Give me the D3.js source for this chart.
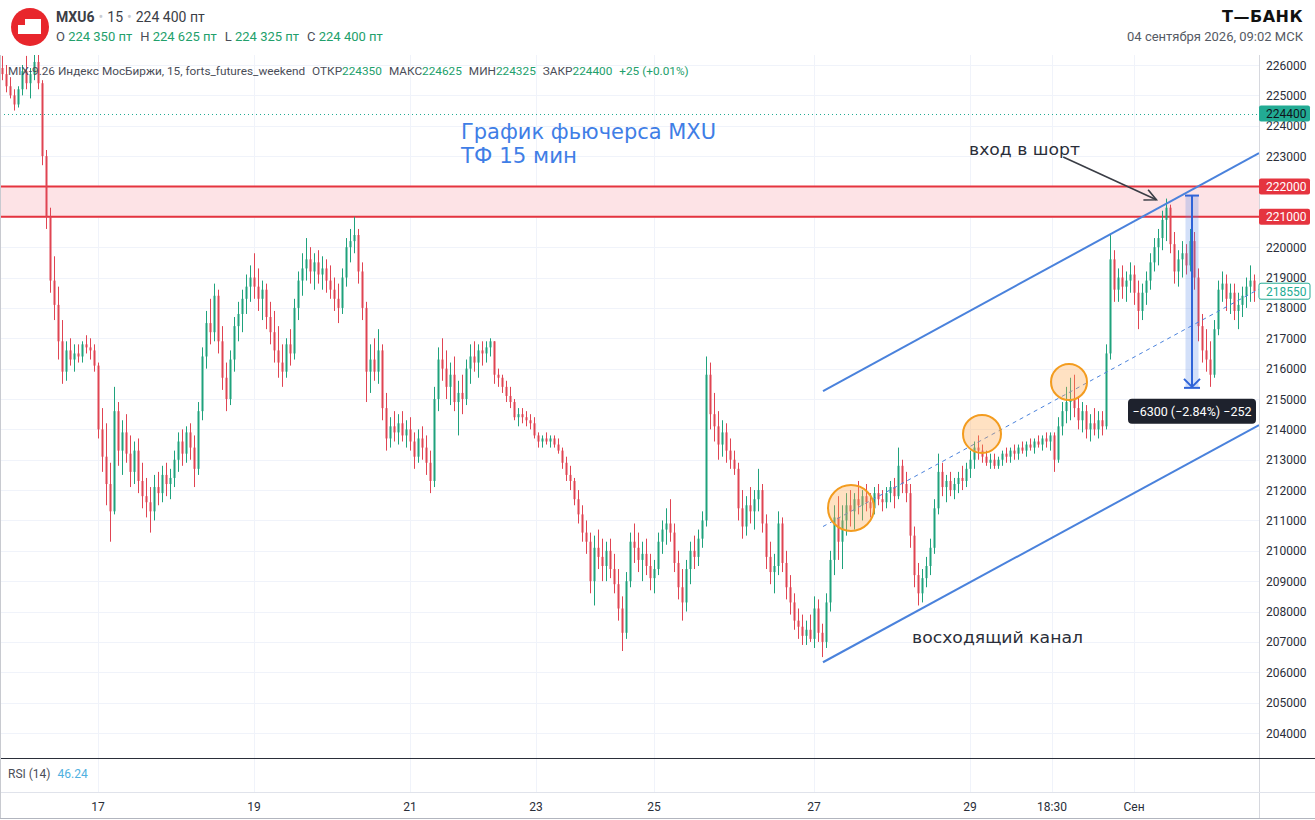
<!DOCTYPE html>
<html><head><meta charset="utf-8">
<script src="https://cdn.jsdelivr.net/npm/d3@7"></script>
<style>
html,body{margin:0;padding:0;background:#fff;}
svg{display:block;font-family:Roboto,"Noto Sans",sans-serif;}
</style></head>
<body>
<svg id="chart" width="1315" height="820"></svg>
<script>
// ---------- DATA ----------
// 15-min candles [open, high, low, close]
const candles = [
[225900,226300,225500,225700],[225700,226000,225100,225300],[225300,225600,224900,225000],[225000,225200,224500,224700],
[224700,225300,224600,225200],[225200,226000,225000,225800],[225800,226300,225200,225400],[225400,225900,224900,225700],
[225700,226400,225500,226100],[226100,226400,225200,225400],[225400,225500,222700,223000],[223000,223200,220600,221000],
[221000,221300,218500,218900],[218900,219700,217600,218100],[218100,218700,216300,216900],[216900,217600,215500,215900],
[215900,216900,215600,216600],[216600,217000,216100,216300],[216300,216800,215900,216500],[216500,216800,216200,216400],
[216400,216900,216200,216800],[216800,217100,216500,216700],[216700,217000,216300,216600],[216600,216800,215900,216100],
[216100,216200,213700,214000],[214000,214700,212600,213100],[213100,214200,211500,212200],[212200,212900,210300,211300],
[211300,215400,211200,214600],[214600,214900,212800,213300],[213300,214300,212500,213900],[213900,214500,212900,213200],
[213200,213800,212100,212600],[212600,213600,212200,213300],[213300,213700,211900,212300],[212300,212900,211400,211800],
[211800,212400,211100,211600],[211600,212100,210600,211300],[211300,212500,211000,212100],[212100,212600,211500,211900],
[211900,212800,211600,212500],[212500,212900,211800,212200],[212200,212700,211700,212400],[212400,213300,212100,213000],
[213000,213900,212600,213600],[213600,214000,212800,213200],[213200,214100,212900,213900],[213900,214200,213000,213400],
[213400,213800,212100,212700],[212700,214900,212500,214600],[214600,216700,214300,216400],[216400,217900,216000,217500],
[217500,218300,216800,217200],[217200,218800,216900,218400],[218400,218600,216500,216900],[216900,217400,215300,215700],
[215700,216200,214600,215000],[215000,216600,214800,216300],[216300,217700,215900,217400],[217400,218200,216900,217800],
[217800,218600,217200,218300],[218300,219100,217800,218700],[218700,219400,218200,219000],[219000,219800,218300,218700],
[218700,219300,217900,218300],[218300,218900,217600,218600],[218600,218800,217300,217700],[217700,218200,216800,217200],
[217200,217900,216200,216600],[216600,217400,215700,216200],[216200,216800,215400,215900],[215900,217000,215700,216800],
[216800,217300,216100,216500],[216500,218300,216300,218000],[218000,219200,217600,218900],[218900,219800,218400,219300],
[219300,220300,218900,219600],[219600,220000,218800,219200],[219200,219800,218600,219500],[219500,219900,218800,219100],
[219100,219700,218600,219300],[219300,219600,218500,218900],[218900,219400,218300,218600],[218600,219000,217900,218300],
[218300,218800,217500,218000],[218000,219300,217800,219000],[219000,220300,218700,220000],[220000,220600,219500,220200],
[220200,221000,219800,220400],[220400,220600,218800,219200],[219200,219500,217600,218000],[218000,218200,214900,215900],
[215900,216800,215200,216300],[216300,217000,215600,215900],[215900,217300,215500,216600],[216600,216800,214300,214700],
[214700,215200,213300,213700],[213700,214400,213400,214100],[214100,214600,213600,213900],[213900,214500,213500,214200],
[214200,214600,213600,213800],[213800,214300,213400,214000],[214000,214400,213300,213600],[213600,213900,212700,213100],
[213100,214000,212900,213700],[213700,214100,213000,213400],[213400,213800,212500,212900],[212900,213300,211900,212300],
[212300,215400,212100,215000],[215000,216700,214600,216300],[216300,217000,215600,216000],[216000,216600,215000,215400],
[215400,216200,214800,215800],[215800,216400,214600,214900],[214900,215600,213800,215200],[215200,215800,214500,215000],
[215000,216300,214800,216000],[216000,216800,215500,216400],[216400,216900,215900,216200],[216200,216800,215700,216600],
[216600,216900,216100,216500],[216500,216900,216200,216700],[216700,217000,216400,216900],[216900,216900,215500,215800],
[215800,216000,215400,215700],[215700,215800,215200,215400],[215400,215600,214900,215100],[215100,215400,214700,214900],
[214900,215000,214300,214400],[214400,214700,214100,214500],[214500,214700,214200,214400],[214400,214600,214100,214300],
[214300,214500,214000,214200],[214200,214400,213700,213800],[213800,213900,213400,213600],[213600,213800,213400,213700],
[213700,213900,213500,213600],[213600,213800,213400,213700],[213700,213800,213400,213500],[213500,213700,213200,213300],
[213300,213400,212700,212900],[212900,213100,212300,212500],[212500,212800,212000,212300],[212300,212400,211500,211700],
[211700,212000,210900,211200],[211200,211500,210300,210600],[210600,211000,209900,210300],[210300,210600,208600,209000],
[209000,210500,208200,210100],[210100,210700,209400,209800],[209800,210400,209000,209500],[209500,210300,209000,210000],
[210000,210400,209100,209400],[209400,209900,208600,208900],[208900,209400,207700,208100],[208100,208500,206700,207300],
[207300,209300,207100,209000],[209000,210600,208800,210300],[210300,210900,209600,210100],[210100,210600,209300,209700],
[209700,210300,209000,209900],[209900,210400,209200,209500],[209500,209900,208700,209100],[209100,209700,208600,209400],
[209400,210600,209200,210300],[210300,211000,209900,210700],[210700,211400,210200,210900],[210900,211700,210300,210600],
[210600,210900,209300,209600],[209600,210000,208400,208800],[208800,209400,207700,208300],[208300,209700,208000,209400],
[209400,210300,208900,210000],[210000,210500,209400,209800],[209800,210700,209500,210400],[210400,211300,210100,211000],
[211000,216400,210800,215800],[215800,216200,214000,214500],[214500,215200,213600,214100],[214100,214600,213000,213500],
[213500,214300,213100,213900],[213900,214200,212900,213300],[213300,213700,212700,213000],[213000,213300,212500,212700],
[212700,212900,211000,211400],[211400,212000,210400,210800],[210800,211800,210500,211500],[211500,212100,210900,211300],
[211300,212000,210700,211700],[211700,212700,211300,212000],[212000,212200,210600,210900],[210900,211200,209400,209800],
[209800,210300,208900,209300],[209300,209900,208600,209500],[209500,211300,209200,210900],[210900,211100,209300,209600],
[209600,210000,208400,208800],[208800,209200,207900,208300],[208300,208600,207400,207700],[207700,208100,207100,207500],
[207500,207900,206900,207200],[207200,207700,206900,207400],[207400,207900,207000,207100],[207100,208500,206800,208100],
[208100,208400,207000,207300],[207300,207600,206500,207000],[207000,208600,206800,208300],[208300,210000,208000,209700],
[209700,211500,209200,211100],[211100,211800,209700,210300],[210300,211500,209400,211000],[211000,211900,210500,211500],
[211500,212000,210800,211300],[211300,211900,210700,211700],[211700,212300,211200,211500],[211500,212000,211000,211800],
[211800,212200,211300,211600],[211600,211900,211100,211400],[211400,212100,211200,211900],[211900,212200,211500,211700],
[211700,212000,211300,211600],[211600,212100,211400,211900],[211900,212300,211600,212100],[212100,212400,211400,211800],
[211800,213400,211700,212800],[212800,213000,211900,212200],[212200,212600,211600,211900],[211900,212200,210100,210500],
[210500,210800,208800,209200],[209200,209600,208200,208600],[208600,209400,208300,209100],[209100,209800,208800,209500],
[209500,210400,209200,210100],[210100,211700,209900,211400],[211400,213200,211200,212600],[212600,212900,211800,212100],
[212100,212500,211600,212300],[212300,212600,211800,212000],[212000,212400,211700,212200],[212200,212600,211900,212400],
[212400,212800,212000,212300],[212300,212900,212100,212700],[212700,213300,212400,213000],[213000,213600,212700,213400],
[213400,213800,213000,213300],[213300,213500,212900,213100],[213100,213300,212800,212900],[212900,213200,212700,213000],
[213000,213200,212700,212800],[212800,213100,212700,213000],[213000,213300,212800,213200],[213200,213400,212900,213100],
[213100,213400,212900,213300],[213300,213500,213000,213200],[213200,213500,213000,213400],[213400,213600,213200,213300],
[213300,213600,213100,213500],[213500,213700,213300,213400],[213400,213700,213200,213600],[213600,213800,213400,213500],
[213500,213800,213300,213700],[213700,213900,213400,213600],[213600,213900,213300,213800],[213800,213900,212600,213000],
[213000,214400,212900,214100],[214100,214900,213800,214600],[214600,215400,214200,214900],[214900,215700,214300,215000],
[215000,215800,214400,214700],[214700,215100,214000,214300],[214300,214900,213900,214600],[214600,214800,213700,214000],
[214000,214500,213600,214200],[214200,214700,213800,214000],[214000,214600,213700,214300],[214300,214600,213800,214100],
[214100,216800,214000,216500],[216500,220400,216300,219600],[219600,219900,218200,218600],[218600,219300,218200,219000],
[219000,219400,218300,218700],[218700,219200,218200,218900],[218900,219500,218500,219100],[219100,219400,218100,218500],
[218500,218900,217300,217900],[217900,218800,217600,218500],[218500,219200,218100,218900],[218900,219800,218600,219500],
[219500,220300,219200,220000],[220000,220600,219400,220300],[220300,221200,219900,220900],[220900,221600,220200,221300],
[221300,221400,219800,220100],[220100,220500,218800,219200],[219200,219900,218700,219600],[219600,220200,219000,219800],
[219800,220100,219100,219400],[219400,220600,219200,220200],[220200,220500,218600,219000],[219000,219300,216900,217400],
[217400,217800,216200,216600],[216600,217300,215900,216300],[216300,216900,215400,215800],[215800,217600,215700,217300],
[217300,218900,217100,218600],[218600,219200,218200,218800],[218800,219100,217900,218300],[218300,218800,217800,218500],
[218500,218800,217600,217900],[217900,218500,217300,218100],[218100,218700,217700,218400],[218400,219000,218000,218700],
[218700,219400,218200,218900],[218900,219100,218200,218550]
];
const priceTicks = [204000,205000,206000,207000,208000,209000,210000,211000,212000,213000,214000,215000,
                    216000,217000,218000,219000,220000,221000,222000,223000,224000,225000,226000];
const timeTickIndex = [24, 63, 102, 133.5, 163, 203, 242, 262.5, 283];
const timeTickLabels = ["17","19","21","23","25","27","29","18:30","Сен"];
const lastPrice = 224400;          // last trade (dotted line)
const closeLevel = 218550;         // close label
const zoneLevels = [222000, 221000];
// rising channel: [candle index, price]
const channelUpper = [[205.25, 215260],[314.25, 223100]];
const channelLower = [[205.25, 206330],[314.25, 214140]];
const channelMid   = [[205.25, 210800],[314.25, 218620]];
// touch points of the mid line: [candle index, price]
const touches = [[212.25, 211410],[245, 213850],[266.75, 215560]];
// short measure: index, from, to
const measure = {idx: 297.5, from: 221700, to: 215400, label: "−6300 (−2.84%) −252"};
const entryArrow = [[265.3, 222970],[288.6, 221560]];
const ohlcHeader = [["O","224 350 пт"],["H","224 625 пт"],["L","224 325 пт"],["C","224 400 пт"]];
const legendVals = [["ОТКР","224350"],["МАКС","224625"],["МИН","224325"],["ЗАКР","224400"]];

// ---------- LAYOUT ----------
const W = 1315, H = 820;
const plotL = 0, plotR = 1259, plotT = 55, plotB = 757;
const svg = d3.select("#chart");

const x = d3.scaleLinear().domain([0, candles.length - 1]).range([2, 1254]);
const y = d3.scaleLinear().domain([204000, 226000]).range([733, 65]);

const UP = "#1fa27c", DOWN = "#e04452";
const BLUE = "#4a82dc";

svg.append("rect").attr("width", W).attr("height", H).attr("fill", "#fff");

svg.append("clipPath").attr("id","plotclip").append("rect")
  .attr("x", plotL).attr("y", plotT).attr("width", plotR - plotL).attr("height", plotB - plotT);

const grid = svg.append("g");
priceTicks.forEach(p => {
  grid.append("line").attr("x1", plotL).attr("x2", plotR)
    .attr("y1", Math.round(y(p)) + 0.5).attr("y2", Math.round(y(p)) + 0.5)
    .attr("stroke", "#f0f3fa").attr("stroke-width", 1);
});
timeTickIndex.forEach(t => {
  grid.append("line").attr("x1", Math.round(x(t)) + 0.5).attr("x2", Math.round(x(t)) + 0.5)
    .attr("y1", plotT).attr("y2", 792)
    .attr("stroke", "#f0f3fa").attr("stroke-width", 1);
});

const plot = svg.append("g").attr("clip-path", "url(#plotclip)");

// resistance zone
plot.append("rect").attr("x", plotL).attr("width", plotR - plotL)
  .attr("y", y(zoneLevels[0])).attr("height", y(zoneLevels[1]) - y(zoneLevels[0]))
  .attr("fill", "#fde3e6");
zoneLevels.forEach(p => {
  plot.append("line").attr("x1", plotL).attr("x2", plotR).attr("y1", y(p)).attr("y2", y(p))
    .attr("stroke", "#e5343f").attr("stroke-width", 2);
});

// last price dotted line
plot.append("line").attr("x1", plotL).attr("x2", plotR)
  .attr("y1", Math.round(y(lastPrice)) + 0.5).attr("y2", Math.round(y(lastPrice)) + 0.5)
  .attr("stroke", "#22ab94").attr("stroke-width", 1).attr("stroke-dasharray", "1,3");

// candles
const cg = plot.append("g");
candles.forEach((c, i) => {
  const [o, h, l, cl] = c;
  const col = cl >= o ? UP : DOWN;
  const cx = Math.round(x(i));
  cg.append("line").attr("x1", cx + 0.5).attr("x2", cx + 0.5)
    .attr("y1", y(h)).attr("y2", y(l)).attr("stroke", col).attr("stroke-width", 1);
  const top = y(Math.max(o, cl)), bot = y(Math.min(o, cl));
  cg.append("rect").attr("x", cx - 0.5).attr("width", 2)
    .attr("y", top).attr("height", Math.max(1, bot - top)).attr("fill", col);
});

// channel
const line = d3.line().x(d => x(d[0])).y(d => y(d[1]));
plot.append("path").attr("d", line(channelUpper)).attr("stroke", BLUE).attr("stroke-width", 2).attr("fill", "none");
plot.append("path").attr("d", line(channelLower)).attr("stroke", BLUE).attr("stroke-width", 2).attr("fill", "none");
plot.append("path").attr("d", line(channelMid)).attr("stroke", BLUE).attr("stroke-width", 1)
  .attr("stroke-dasharray", "4,4").attr("fill", "none");

// touch circles
const radii = [23, 19, 18];
touches.forEach((t, i) => {
  plot.append("circle").attr("cx", x(t[0])).attr("cy", y(t[1])).attr("r", radii[i])
    .attr("fill", "rgba(255,170,80,0.35)").attr("stroke", "#f39c1f").attr("stroke-width", 2);
});

// measure
const mx = x(measure.idx), my1 = y(measure.from), my2 = y(measure.to);
plot.append("rect").attr("x", mx - 6.5).attr("width", 13).attr("y", my1).attr("height", my2 - my1)
  .attr("fill", "rgba(80,130,230,0.25)");
plot.append("line").attr("x1", mx - 7).attr("x2", mx + 7).attr("y1", my1).attr("y2", my1)
  .attr("stroke", "#2f64d8").attr("stroke-width", 2);
plot.append("line").attr("x1", mx).attr("x2", mx).attr("y1", my1).attr("y2", my2)
  .attr("stroke", "#2f64d8").attr("stroke-width", 2);
plot.append("path").attr("d", `M${mx-8},${my2-8} L${mx},${my2} L${mx+8},${my2-8}`)
  .attr("stroke", "#2f64d8").attr("stroke-width", 2).attr("fill", "none");
plot.append("line").attr("x1", mx - 8).attr("x2", mx + 8).attr("y1", my2 + 1).attr("y2", my2 + 1)
  .attr("stroke", "#2f64d8").attr("stroke-width", 2);
plot.append("rect").attr("x", mx - 64).attr("y", my2 + 12).attr("width", 128).attr("height", 25).attr("rx", 4)
  .attr("fill", "#1e222d");
plot.append("text").attr("x", mx).attr("y", my2 + 29).attr("text-anchor", "middle")
  .attr("fill", "#fff").attr("font-size", 12.5).text(measure.label);

// entry arrow
const [a0, a1] = entryArrow.map(d => [x(d[0]), y(d[1])]);
plot.append("line").attr("x1", a0[0]).attr("y1", a0[1]).attr("x2", a1[0]).attr("y2", a1[1])
  .attr("stroke", "#3a3d45").attr("stroke-width", 1.6);
{
  const ang = Math.atan2(a1[1] - a0[1], a1[0] - a0[0]);
  const L = 13, sp = 0.45;
  const p1 = [a1[0] - L * Math.cos(ang - sp), a1[1] - L * Math.sin(ang - sp)];
  const p2 = [a1[0] - L * Math.cos(ang + sp), a1[1] - L * Math.sin(ang + sp)];
  plot.append("path").attr("d", `M${p1[0]},${p1[1]} L${a1[0]},${a1[1]} L${p2[0]},${p2[1]}`)
    .attr("stroke", "#3a3d45").attr("stroke-width", 1.6).attr("fill", "none");
}

// annotation texts
const annFont = "'DejaVu Sans',Verdana,sans-serif";
plot.append("text").attr("x", 461).attr("y", 139).attr("fill", "#3f7ee6").attr("font-size", 20.5)
  .attr("font-family", annFont).attr("textLength", 255).attr("lengthAdjust", "spacingAndGlyphs")
  .text("График фьючерса MXU");
plot.append("text").attr("x", 461).attr("y", 163).attr("fill", "#3f7ee6").attr("font-size", 20.5)
  .attr("font-family", annFont).attr("textLength", 116).attr("lengthAdjust", "spacingAndGlyphs")
  .text("ТФ 15 мин");
plot.append("text").attr("x", 969).attr("y", 155).attr("fill", "#2a2e39").attr("font-size", 16.5)
  .attr("font-family", annFont).attr("textLength", 111).attr("lengthAdjust", "spacingAndGlyphs")
  .text("вход в шорт");
plot.append("text").attr("x", 912).attr("y", 643).attr("fill", "#2a2e39").attr("font-size", 16.5)
  .attr("font-family", annFont).attr("textLength", 171).attr("lengthAdjust", "spacingAndGlyphs")
  .text("восходящий канал");

// legend inside pane (one text, flowing tspans)
const lt = svg.append("text").attr("x", 8).attr("y", 75).attr("font-size", 11.8).attr("fill", "#4a4d57");
lt.append("tspan").text("MIX-9.26 Индекс МосБиржи, 15, forts_futures_weekend");
legendVals.forEach((d) => {
  lt.append("tspan").attr("dx", 7).attr("fill", "#4a4d57").text(d[0]);
  lt.append("tspan").attr("fill", "#22a06b").text(d[1]);
});
lt.append("tspan").attr("dx", 7).attr("fill", "#22a06b").text("+25 (+0.01%)");

// right price axis
svg.append("line").attr("x1", plotR + 0.5).attr("x2", plotR + 0.5).attr("y1", plotT).attr("y2", 818)
  .attr("stroke", "#d6d8de");
const ax = svg.append("g").attr("font-size", 12).attr("fill", "#2a2e39");
priceTicks.forEach(p => {
  ax.append("text").attr("x", 1266).attr("y", y(p) + 4.5).text(p);
});

function priceLabel(p, fill, stroke, color) {
  const yy = y(p);
  svg.append("rect").attr("x", 1259).attr("y", yy - 8).attr("width", 51).attr("height", 16).attr("rx", 2)
    .attr("fill", fill).attr("stroke", stroke).attr("stroke-width", 1);
  svg.append("text").attr("x", 1266).attr("y", yy + 4.5).attr("font-size", 12).attr("fill", color).text(p);
}
priceLabel(lastPrice, "#22ab94", "none", "#10151c");
priceLabel(zoneLevels[0], "#e5343f", "none", "#fff");
priceLabel(zoneLevels[1], "#e5343f", "none", "#fff");
priceLabel(closeLevel, "#fff", "#22ab94", "#22ab94");

// panes separators
svg.append("line").attr("x1", 0).attr("x2", W).attr("y1", 758.5).attr("y2", 758.5).attr("stroke", "#2a2e39").attr("stroke-width", 1);
svg.append("line").attr("x1", 0).attr("x2", W).attr("y1", 792.5).attr("y2", 792.5).attr("stroke", "#e0e3eb");
svg.append("line").attr("x1", 0).attr("x2", W).attr("y1", 818.5).attr("y2", 818.5).attr("stroke", "#b2b5be");
svg.append("line").attr("x1", 0.5).attr("x2", 0.5).attr("y1", plotT).attr("y2", 818).attr("stroke", "#c8cad0");

// RSI label
const rsi = svg.append("text").attr("x", 8).attr("y", 778).attr("font-size", 12);
rsi.append("tspan").attr("fill", "#4a4d57").text("RSI (14) ");
rsi.append("tspan").attr("fill", "#4fb0e0").attr("dx", 4).text("46.24");

// time axis
timeTickIndex.forEach((t, i) => {
  svg.append("text").attr("x", x(t)).attr("y", 811).attr("text-anchor", "middle")
    .attr("font-size", 12).attr("fill", "#2a2e39").text(timeTickLabels[i]);
});

// header
svg.append("circle").attr("cx", 30).attr("cy", 27).attr("r", 19).attr("fill", "#e8262c");
svg.append("path").attr("d", "M18,25 L25,25 L25,19 L41,19 L41,34 L18,34 Z").attr("fill", "#fff");
const h1 = svg.append("text").attr("x", 56).attr("y", 22).attr("font-size", 14);
h1.append("tspan").attr("font-weight", 700).attr("fill", "#3b3e46").text("MXU6");
h1.append("tspan").attr("fill", "#c9cbd0").attr("dx", 4).text("•");
h1.append("tspan").attr("fill", "#3b3e46").attr("dx", 4).text("15");
h1.append("tspan").attr("fill", "#c9cbd0").attr("dx", 4).text("•");
h1.append("tspan").attr("fill", "#3b3e46").attr("dx", 4).text("224 400 пт");
const h2 = svg.append("text").attr("x", 56).attr("y", 41).attr("font-size", 13);
ohlcHeader.forEach((d, i) => {
  h2.append("tspan").attr("fill", "#4a4d57").attr("dx", i ? 8 : 0).text(d[0] + " ");
  h2.append("tspan").attr("fill", "#22a06b").text(d[1]);
});
svg.append("text").attr("x", 1303).attr("y", 22).attr("text-anchor", "end").attr("font-size", 16)
  .attr("font-weight", 900).attr("font-family", "'DejaVu Sans',sans-serif").attr("letter-spacing", 0.5)
  .attr("fill", "#111").text("Т—БАНК");
svg.append("text").attr("x", 1303).attr("y", 41).attr("text-anchor", "end").attr("font-size", 13)
  .attr("fill", "#555a64").text("04 сентября 2026, 09:02 МСК");
</script>
</body></html>
